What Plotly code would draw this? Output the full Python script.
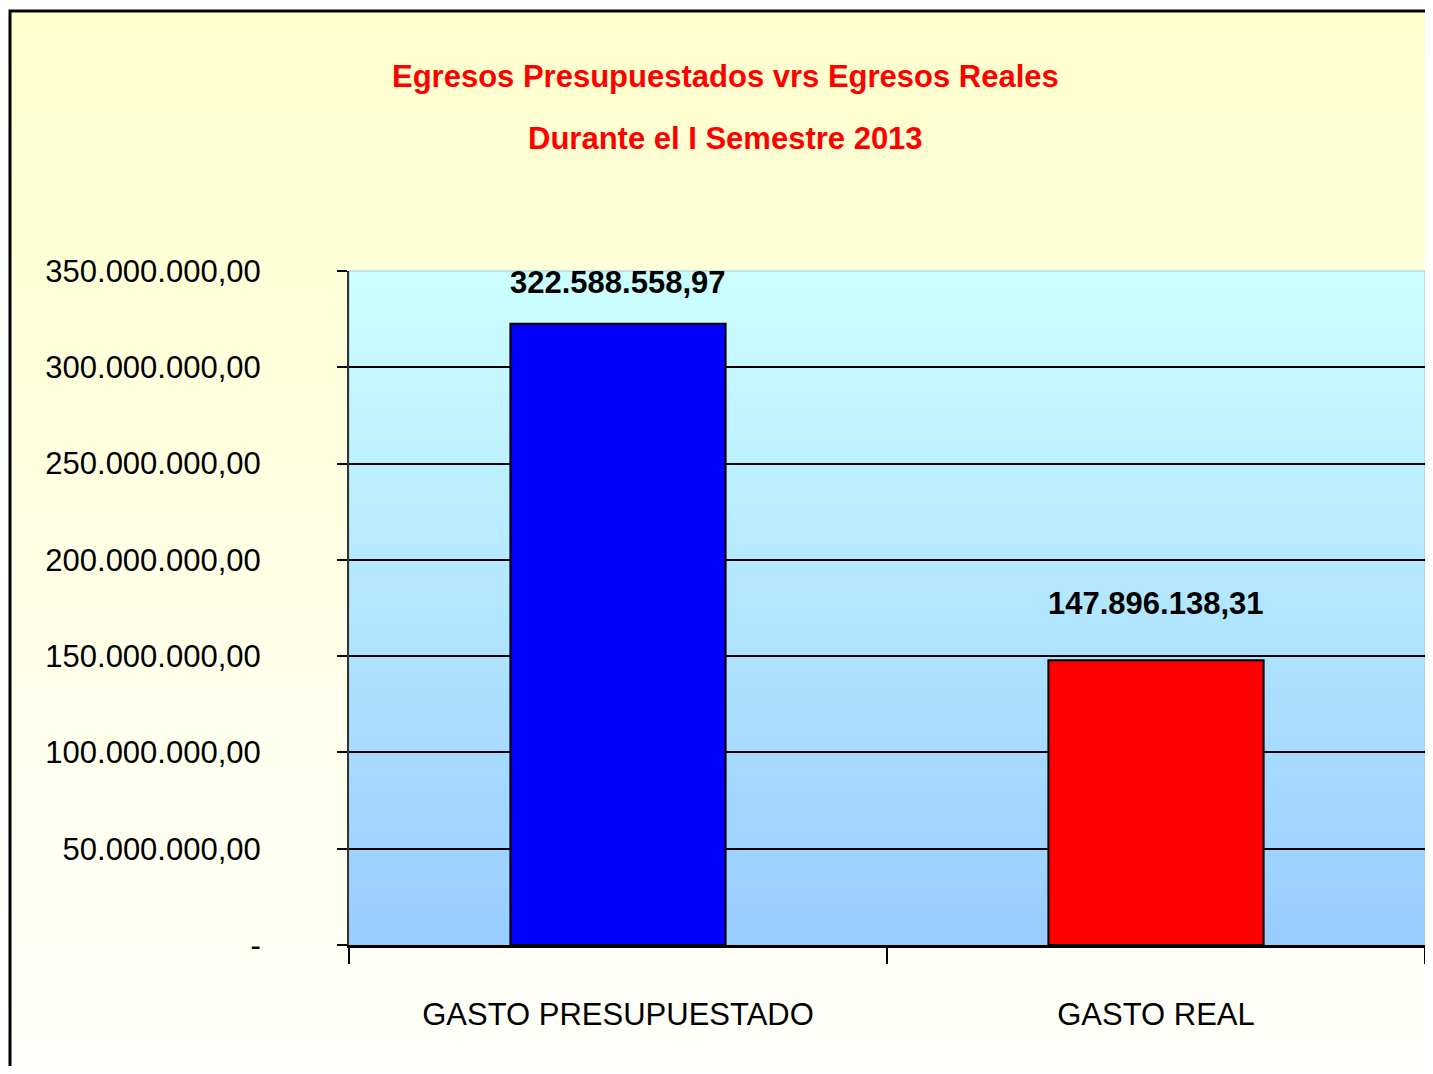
import plotly.graph_objects as go

categories = ["GASTO PRESUPUESTADO", "GASTO REAL"]
values = [322588558.97, 147896138.31]
value_labels = ["322.588.558,97", "147.896.138,31"]
bar_colors = ["#0000FF", "#FF0000"]
y_tickvals = [0, 50e6, 100e6, 150e6, 200e6, 250e6, 300e6, 350e6]
y_ticktext = ["-", "50.000.000,00", "100.000.000,00", "150.000.000,00",
              "200.000.000,00", "250.000.000,00", "300.000.000,00", "350.000.000,00"]
title_lines = ["Egresos Presupuestados vrs Egresos Reales", "Durante el I Semestre 2013"]

# page has an 8px body margin; figure sized to fit inside the window
OFF = 8
W, H = 1433 - 2 * OFF, 1074 - 2 * OFF
L = 349 - OFF
T = 271 - OFF
R = W - (1425 - OFF)
B = H - (945 - OFF)
PW, PH = W - L - R, H - T - B

FONT = "Liberation Sans Narrow, Arial Narrow, Liberation Sans, Arial, sans-serif"
FS = 31

def px_x(p):  # page pixel -> paper x
    return (p - OFF - L) / PW

def px_y(p):  # page pixel -> paper y
    return (H - B - (p - OFF)) / PH

def lerp(c1, c2, t):
    return "#%02x%02x%02x" % tuple(round(a + (b - a) * t) for a, b in zip(c1, c2))

shapes = []
# paper background gradient (yellow to near white)
n = 60
top, bot = 10, 1074
for i in range(n):
    y0p = top + (bot - top) * i / n
    y1p = top + (bot - top) * (i + 1) / n
    c = lerp((255, 255, 204), (255, 255, 252), (i + 0.5) / n)
    shapes.append(dict(type="rect", xref="paper", yref="paper", layer="below",
                       x0=px_x(10), x1=px_x(1440), y0=px_y(y1p + 1), y1=px_y(y0p),
                       fillcolor=c, line=dict(width=0)))
# plot area gradient (light cyan to light blue)
m = 60
for i in range(m):
    c = lerp((204, 255, 255), (153, 204, 255), (i + 0.5) / m)
    shapes.append(dict(type="rect", xref="paper", yref="paper", layer="below",
                       x0=0, x1=1, y0=1 - (i + 1) / m - 0.002, y1=1 - i / m,
                       fillcolor=c, line=dict(width=0)))
# plot area border
shapes.append(dict(type="rect", xref="paper", yref="paper", layer="below",
                   x0=0, x1=1, y0=0, y1=1, line=dict(color="#99CCCC", width=1)))
# outer frame
shapes.append(dict(type="rect", xref="paper", yref="paper", layer="above",
                   x0=px_x(10), x1=px_x(1460), y0=px_y(1100), y1=px_y(11),
                   line=dict(color="black", width=3), fillcolor="rgba(0,0,0,0)"))

fig = go.Figure()
fig.add_trace(go.Bar(
    x=categories, y=values,
    marker=dict(color=bar_colors, line=dict(color="black", width=2)),
    width=0.4, hoverinfo="skip",
))

label_shift = [41, 57]
annotations = []
for c, v, t, s in zip(categories, values, value_labels, label_shift):
    annotations.append(dict(x=c, y=v, text="<b>%s</b>" % t, showarrow=False,
                            yanchor="middle", yshift=s,
                            font=dict(family=FONT, size=FS, color="black")))
for line, yc in zip(title_lines, [77, 138]):
    annotations.append(dict(xref="paper", yref="paper", x=px_x(725), y=px_y(yc),
                            text="<b>%s</b>" % line, showarrow=False,
                            xanchor="center", yanchor="middle",
                            font=dict(family=FONT, size=FS, color="#FF0000")))

fig.update_layout(
    width=W, height=H,
    margin=dict(l=L, r=R, t=T, b=B, pad=0, autoexpand=False),
    paper_bgcolor="white", plot_bgcolor="rgba(0,0,0,0)",
    shapes=shapes, annotations=annotations,
    showlegend=False, bargap=0.6,
    font=dict(family=FONT, color="black"),
)
fig.update_xaxes(
    type="category", showline=True, linecolor="black", linewidth=3,
    ticks="outside", tickson="boundaries", ticklen=16, tickwidth=2, tickcolor="black",
    showgrid=False, tickfont=dict(family=FONT, size=FS, color="black"),
    tickangle=0, automargin=False, ticklabelstandoff=40,
)
fig.update_yaxes(
    range=[0, 350e6], tickvals=y_tickvals, ticktext=y_ticktext,
    showline=True, linecolor="#333333", linewidth=2,
    ticks="outside", ticklen=10, tickwidth=2, tickcolor="black",
    showgrid=True, gridcolor="black", gridwidth=2, zeroline=False,
    tickfont=dict(family=FONT, size=FS, color="black"),
    automargin=False, ticklabelstandoff=70,
)

fig.write_html("out.html")
